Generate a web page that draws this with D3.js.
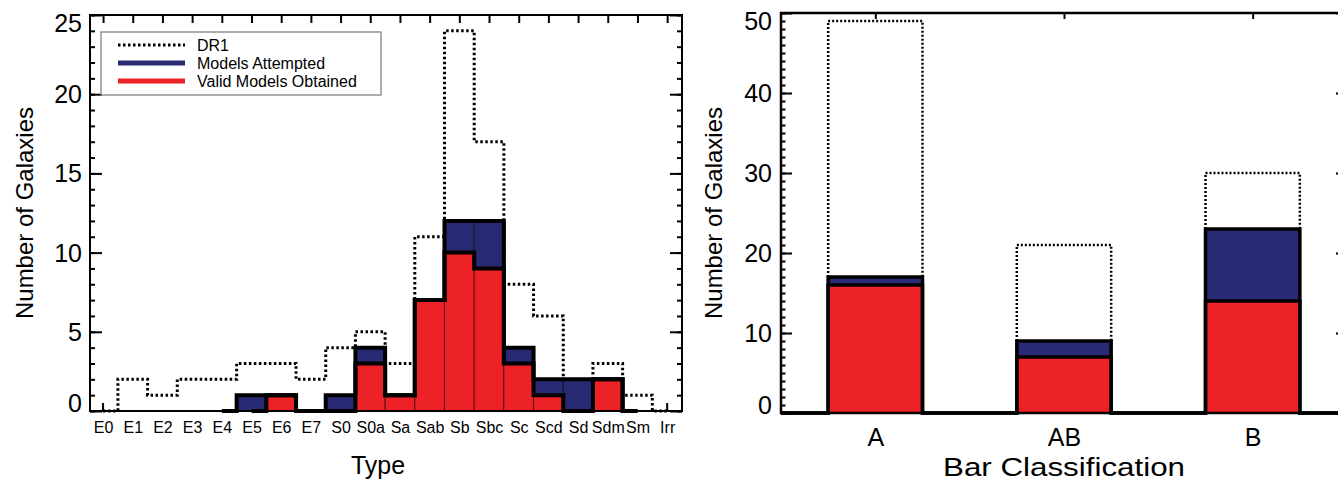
<!DOCTYPE html>
<html>
<head>
<meta charset="utf-8">
<script src="https://cdn.jsdelivr.net/npm/d3@7"></script>
<style>
  body { margin: 0; background: #fff; }
  text { font-family: "Liberation Sans", Arial, sans-serif; fill: #000; }
</style>
</head>
<body>
<div id="chart"></div>
<script>
// galaxy counts by Hubble type
const types = ["E0", "E1", "E2", "E3", "E4", "E5", "E6", "E7", "S0", "S0a",
               "Sa", "Sab", "Sb", "Sbc", "Sc", "Scd", "Sd", "Sdm", "Sm", "Irr"];
const dr1Type       = [0, 2, 1, 2, 2, 3, 3, 2, 4, 5, 3, 11, 24, 17, 8, 6, 2, 3, 1, 0];
const attemptedType = [0, 0, 0, 0, 0, 1, 1, 0, 1, 4, 1, 7, 12, 12, 4, 2, 2, 2, 0, 0];
const validType     = [0, 0, 0, 0, 0, 0, 1, 0, 0, 3, 1, 7, 10, 9, 3, 1, 0, 2, 0, 0];
const typeTicks = [0, 5, 10, 15, 20, 25];

// galaxy counts by bar classification
const barClasses = ["A", "AB", "B"];
const dr1Bar       = [49, 21, 30];
const attemptedBar = [17, 9, 23];
const validBar     = [16, 7, 14];
const barTicks = [0, 10, 20, 30, 40, 50];

const legendItems = ["DR1", "Models Attempted", "Valid Models Obtained"];

const RED = "#ec2227", BLUE = "#282a73";

const svg = d3.select("#chart").append("svg")
    .attr("width", 1338)
    .attr("height", 481);

// psym=10 style histogram line, from centre of bin i0 to centre of bin i1
function stepLine(vals, i0, i1, x, y) {
    let p = "M" + x(i0) + "," + y(vals[i0]);
    for (let i = i0; i < i1; i++) {
        p += "H" + x(i + 0.5) + "V" + y(vals[i + 1]);
    }
    return p + "H" + x(i1);
}

function tickAxis(g, axis) {
    g.call(axis);
    g.select(".domain").remove();
    g.selectAll(".tick line").attr("stroke", "#000").attr("stroke-width", 2);
}

// ---------------- left panel: Type ----------------
const xL = d3.scaleLinear().domain([-0.44, 19.5]).range([90, 682]);
const yL = d3.scaleLinear().domain([0, 25]).range([411, 15]);
const left = svg.append("g");

// DR1 dotted histogram
left.append("path")
    .attr("d", stepLine(dr1Type, 0, types.length - 1, xL, yL))
    .attr("fill", "none")
    .attr("stroke", "#000")
    .attr("stroke-width", 3)
    .attr("stroke-dasharray", "2.5,2.5");

// small stubs at the ends of the x range
left.selectAll(".stub")
    .data([0, types.length - 1])
    .enter().append("line")
    .attr("x1", d => xL(d)).attr("x2", d => xL(d))
    .attr("y1", yL(0)).attr("y2", yL(0) - 8)
    .attr("stroke", "#000").attr("stroke-width", 2);

left.selectAll(".attempted")
    .data(attemptedType.map((v, i) => ({v, i})).filter(d => d.v > 0))
    .enter().append("rect")
    .attr("x", d => xL(d.i - 0.5))
    .attr("width", d => xL(d.i + 0.5) - xL(d.i - 0.5))
    .attr("y", d => yL(d.v))
    .attr("height", d => yL(0) - yL(d.v))
    .attr("fill", BLUE)
    .attr("stroke", "#111")
    .attr("stroke-width", 0.8);

left.selectAll(".valid")
    .data(validType.map((v, i) => ({v, i})).filter(d => d.v > 0))
    .enter().append("rect")
    .attr("x", d => xL(d.i - 0.5))
    .attr("width", d => xL(d.i + 0.5) - xL(d.i - 0.5))
    .attr("y", d => yL(d.v))
    .attr("height", d => yL(0) - yL(d.v))
    .attr("fill", RED)
    .attr("stroke", "#4a0d0d")
    .attr("stroke-width", 0.8);

left.append("path")
    .attr("d", stepLine(attemptedType, 4, 18, xL, yL))
    .attr("fill", "none").attr("stroke", "#000").attr("stroke-width", 4);
left.append("path")
    .attr("d", stepLine(validType, 5, 18, xL, yL))
    .attr("fill", "none").attr("stroke", "#000").attr("stroke-width", 4);

// axes ticks (inward, IDL style)
tickAxis(left.append("g").attr("transform", "translate(90,0)"),
    d3.axisRight(yL).tickValues(d3.range(0, 26)).tickSize(5).tickFormat(""));
tickAxis(left.append("g").attr("transform", "translate(90,0)"),
    d3.axisRight(yL).tickValues(typeTicks).tickSize(12).tickFormat(""));
tickAxis(left.append("g").attr("transform", "translate(682,0)"),
    d3.axisLeft(yL).tickValues(d3.range(0, 26)).tickSize(5).tickFormat(""));
tickAxis(left.append("g").attr("transform", "translate(682,0)"),
    d3.axisLeft(yL).tickValues(typeTicks).tickSize(12).tickFormat(""));
tickAxis(left.append("g").attr("transform", "translate(0,15)"),
    d3.axisBottom(xL).tickValues(d3.range(types.length)).tickSize(8).tickFormat(""));

const xAxisL = left.append("g").attr("transform", "translate(0,411)")
    .call(d3.axisBottom(xL).tickValues(d3.range(types.length)).tickSize(0)
        .tickPadding(11).tickFormat(i => types[i]));
xAxisL.select(".domain").remove();
xAxisL.selectAll("text").style("font-size", "16px").style("font-family", null);

left.selectAll(".ylab")
    .data(typeTicks)
    .enter().append("text")
    .attr("x", 82)
    .attr("y", d => Math.max(23, Math.min(403, yL(d))))
    .attr("dy", "0.36em")
    .attr("text-anchor", "end")
    .style("font-size", "25px")
    .text(d => d);

left.append("rect")
    .attr("x", 90).attr("y", 15).attr("width", 592).attr("height", 396)
    .attr("fill", "none").attr("stroke", "#000").attr("stroke-width", 2);

left.append("text")
    .attr("transform", "translate(33,213) rotate(-90)")
    .attr("text-anchor", "middle")
    .style("font-size", "24px")
    .text("Number of Galaxies");
left.append("text")
    .attr("x", 378).attr("y", 474)
    .attr("text-anchor", "middle")
    .style("font-size", "25px")
    .text("Type");

// legend
const legend = left.append("g");
legend.append("rect")
    .attr("x", 101).attr("y", 32).attr("width", 280).attr("height", 63)
    .attr("fill", "#fff").attr("stroke", "#777").attr("stroke-width", 1.2);
const legendStyle = [
    {stroke: "#000", width: 3, dash: "2.5,2.5"},
    {stroke: BLUE, width: 5, dash: null},
    {stroke: RED, width: 5, dash: null}
];
legendItems.forEach((name, i) => {
    const yy = 45 + i * 18;
    legend.append("line")
        .attr("x1", 118).attr("x2", 185).attr("y1", yy).attr("y2", yy)
        .attr("stroke", legendStyle[i].stroke)
        .attr("stroke-width", legendStyle[i].width)
        .attr("stroke-dasharray", legendStyle[i].dash);
    legend.append("text")
        .attr("x", 197).attr("y", yy).attr("dy", "0.36em")
        .style("font-size", "16px")
        .text(name);
});

// ---------------- right panel: Bar classification ----------------
const xR = d3.scaleLinear().domain([-0.5, 2.5]).range([781, 1347]);
const yR = d3.scaleLinear().domain([0, 50]).range([413, 13]);
const hw = 0.25;
const right = svg.append("g");

right.selectAll(".dr1")
    .data(dr1Bar)
    .enter().append("path")
    .attr("d", (d, i) => "M" + xR(i - hw) + "," + yR(0) + "V" + yR(d) +
        "H" + xR(i + hw) + "V" + yR(0))
    .attr("fill", "none")
    .attr("stroke", "#000")
    .attr("stroke-width", 2.5)
    .attr("stroke-dasharray", "2,2");

right.selectAll(".attempted")
    .data(attemptedBar)
    .enter().append("rect")
    .attr("x", (d, i) => xR(i - hw))
    .attr("width", xR(hw) - xR(-hw))
    .attr("y", d => yR(d))
    .attr("height", d => yR(0) - yR(d))
    .attr("fill", BLUE);

right.selectAll(".valid")
    .data(validBar)
    .enter().append("rect")
    .attr("x", (d, i) => xR(i - hw))
    .attr("width", xR(hw) - xR(-hw))
    .attr("y", d => yR(d))
    .attr("height", d => yR(0) - yR(d))
    .attr("fill", RED)
    .attr("stroke", "#7a1414")
    .attr("stroke-width", 0.8);

function barOutline(vals) {
    let p = "M" + xR.range()[0] + "," + yR(0);
    vals.forEach((v, i) => {
        p += "H" + xR(i - hw) + "V" + yR(v) + "H" + xR(i + hw) + "V" + yR(0);
    });
    return p + "H" + xR.range()[1];
}
right.append("path").attr("d", barOutline(attemptedBar))
    .attr("fill", "none").attr("stroke", "#000").attr("stroke-width", 3.5);
right.append("path").attr("d", barOutline(validBar))
    .attr("fill", "none").attr("stroke", "#000").attr("stroke-width", 3.5);

tickAxis(right.append("g").attr("transform", "translate(781,0)"),
    d3.axisRight(yR).tickValues(d3.range(0, 51)).tickSize(4.5).tickFormat(""));
tickAxis(right.append("g").attr("transform", "translate(781,0)"),
    d3.axisRight(yR).tickValues(barTicks).tickSize(11).tickFormat(""));
tickAxis(right.append("g").attr("transform", "translate(1347,0)"),
    d3.axisLeft(yR).tickValues(d3.range(0, 51)).tickSize(4.5).tickFormat(""));
tickAxis(right.append("g").attr("transform", "translate(1347,0)"),
    d3.axisLeft(yR).tickValues(barTicks).tickSize(11).tickFormat(""));
tickAxis(right.append("g").attr("transform", "translate(0,13)"),
    d3.axisBottom(xR).tickValues(d3.range(barClasses.length)).tickSize(6).tickFormat(""));

const xAxisR = right.append("g").attr("transform", "translate(0,413)")
    .call(d3.axisBottom(xR).tickValues(d3.range(barClasses.length)).tickSize(0)
        .tickPadding(15).tickFormat(i => barClasses[i]));
xAxisR.select(".domain").remove();
xAxisR.selectAll("text").style("font-size", "25px").style("font-family", null);

right.selectAll(".ylab")
    .data(barTicks)
    .enter().append("text")
    .attr("x", 772)
    .attr("y", d => Math.max(21, Math.min(405, yR(d))))
    .attr("dy", "0.36em")
    .attr("text-anchor", "end")
    .style("font-size", "25px")
    .text(d => d);

right.append("rect")
    .attr("x", 781).attr("y", 13).attr("width", 566).attr("height", 400)
    .attr("fill", "none").attr("stroke", "#000").attr("stroke-width", 2.5);

right.append("text")
    .attr("transform", "translate(722,213) rotate(-90)")
    .attr("text-anchor", "middle")
    .style("font-size", "24px")
    .text("Number of Galaxies");
right.append("text")
    .attr("x", 1064).attr("y", 476)
    .attr("text-anchor", "middle")
    .style("font-size", "25px")
    .attr("textLength", 242)
    .attr("lengthAdjust", "spacingAndGlyphs")
    .text("Bar Classification");
</script>
</body>
</html>
